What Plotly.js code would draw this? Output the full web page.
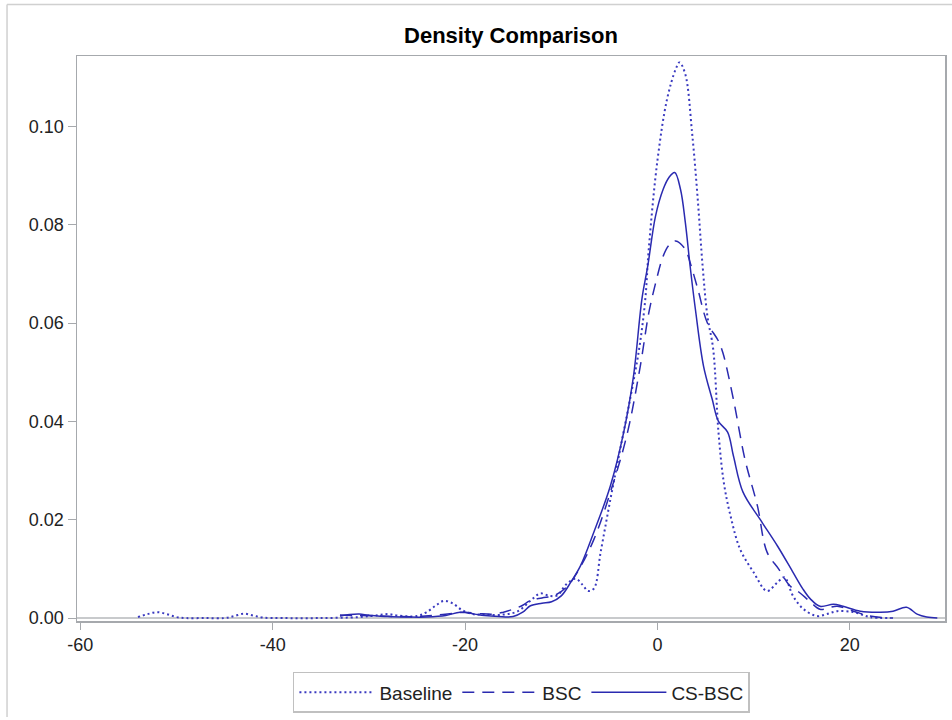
<!DOCTYPE html>
<html>
<head>
<meta charset="utf-8">
<script src="https://cdn.plot.ly/plotly-3.0.1.min.js"></script>
<style>html,body{margin:0;padding:0;background:#fff;}#chart{width:952px;height:720px;}</style>
</head>
<body>
<div id="chart"></div>
<script>
// Baseline (dotted)
const baselineX = [-54, -53, -52, -51, -50, -49, -47, -45, -44, -43, -42, -41, -39, -35, -31, -29, -28, -27, -25, -24, -23, -22.2, -21.3, -20.3, -19.2, -18, -16, -14.5, -13.2, -12.2, -11.2, -10.4, -9.5, -8.5, -7.8, -7.2, -6.6, -5.9, -4.9, -3.8, -2.5, -1.8, -1.25, -0.9, 0, 1.0, 1.9, 2.3, 2.9, 3.6, 4.2, 4.7, 5.2, 5.8, 6.35, 6.9, 7.6, 8.6, 10, 11.4, 12.5, 13.2, 14.1, 15.2, 16.6, 17.6, 18.7, 20.4, 22.1, 24.2];
const baselineY = [0.0002, 0.0008, 0.0012, 0.0008, 0.0002, 0.0000, 0.0000, 0.0000, 0.0004, 0.0009, 0.0005, 0.0001, 0.0000, 0.0000, 0.0002, 0.0006, 0.0008, 0.0005, 0.0004, 0.0012, 0.0026, 0.0035, 0.0030, 0.0016, 0.0008, 0.0007, 0.0007, 0.0014, 0.0035, 0.0050, 0.0045, 0.0046, 0.0068, 0.0080, 0.0068, 0.0055, 0.0060, 0.0134, 0.0240, 0.0350, 0.0480, 0.0560, 0.0650, 0.0750, 0.0930, 0.1055, 0.1116, 0.1130, 0.1106, 0.0988, 0.0850, 0.0716, 0.0614, 0.0547, 0.0378, 0.0276, 0.0208, 0.0140, 0.0093, 0.0055, 0.0073, 0.0083, 0.0045, 0.0018, 0.0004, 0.0008, 0.0014, 0.0012, 0.0002, 0.0000];

// BSC (dashed)
const bscX = [-33, -31, -29, -27, -25, -23, -21, -20, -18.5, -17, -16, -15, -14, -13.2, -12, -10.8, -9.5, -8.3, -6.6, -4.5, -3.1, -1.8, -0.9, -0.2, 0.6, 1.2, 1.9, 2.9, 3.4, 4.2, 5.2, 6.3, 6.8, 7.9, 9.1, 10.4, 11.4, 12.6, 13.8, 14.7, 15.9, 16.9, 18.7, 20.4, 22.1, 24.5];
const bscY = [0.0006, 0.0005, 0.0004, 0.0003, 0.0003, 0.0006, 0.0010, 0.0012, 0.0009, 0.0008, 0.0012, 0.0018, 0.0026, 0.0036, 0.0041, 0.0045, 0.0062, 0.0094, 0.0160, 0.0280, 0.0378, 0.0510, 0.0620, 0.0680, 0.0736, 0.0758, 0.0767, 0.0750, 0.0723, 0.0669, 0.0600, 0.0565, 0.0540, 0.0445, 0.0323, 0.0228, 0.0134, 0.0100, 0.0065, 0.0053, 0.0033, 0.0018, 0.0024, 0.0014, 0.0004, 0.0000];

// CS-BSC (solid)
const csbscX = [-33, -32, -31, -30, -28, -26, -24, -22, -20.5, -19, -18, -16.5, -15, -14, -13.2, -12, -11, -10, -9, -8, -6.6, -4.9, -3.5, -2.5, -1.6, -1.0, -0.2, 0.6, 1.2, 1.8, 2.4, 2.9, 3.4, 3.95, 4.8, 5.7, 6.35, 7.3, 7.9, 8.9, 10.7, 12.5, 14.1, 15.1, 15.9, 16.9, 18.3, 19.3, 21.1, 23.2, 24.5, 25.9, 27, 28, 29.1];
const csbscY = [0.0004, 0.0007, 0.0008, 0.0006, 0.0003, 0.0002, 0.0002, 0.0005, 0.0012, 0.0008, 0.0005, 0.0003, 0.0003, 0.0012, 0.0025, 0.0030, 0.0033, 0.0045, 0.0073, 0.0106, 0.0175, 0.0268, 0.0378, 0.0490, 0.0650, 0.0716, 0.0817, 0.0872, 0.0896, 0.0906, 0.0872, 0.0805, 0.0716, 0.0628, 0.0512, 0.0445, 0.0400, 0.0378, 0.0330, 0.0256, 0.0200, 0.0146, 0.0093, 0.0060, 0.0039, 0.0024, 0.0028, 0.0024, 0.0014, 0.0012, 0.0014, 0.0022, 0.0008, 0.0002, 0.0000];

const seriesNames = ['Baseline', 'BSC', 'CS-BSC'];
const xTicks = [-60, -40, -20, 0, 20];
const yTicks = [0.00, 0.02, 0.04, 0.06, 0.08, 0.10];
const yTickLabels = ['0.00', '0.02', '0.04', '0.06', '0.08', '0.10'];

const lineColor = '#2a2ab0';
const axisColor = '#a6a9ad';
const font = 'Liberation Sans, Arial, sans-serif';

const traces = [
  {x: baselineX, y: baselineY, name: seriesNames[0], mode: 'lines',
   line: {color: '#3a3ac0', width: 2, dash: '2px,3px', shape: 'spline', smoothing: 1}},
  {x: bscX, y: bscY, name: seriesNames[1], mode: 'lines',
   line: {color: lineColor, width: 1.5, dash: '12px,8px', shape: 'spline', smoothing: 1}},
  {x: csbscX, y: csbscY, name: seriesNames[2], mode: 'lines',
   line: {color: lineColor, width: 1.5, shape: 'spline', smoothing: 1}}
];

const layout = {
  width: 952, height: 720,
  margin: {l: 77, r: 7, t: 56, b: 93},
  paper_bgcolor: '#fff', plot_bgcolor: '#fff',
  font: {family: font, size: 18, color: '#222'},
  title: {text: '<b>Density Comparison</b>', font: {family: font, size: 22, color: '#000'},
          x: 0.5, xref: 'paper', xanchor: 'center', y: 1 - 35/720, yref: 'container', yanchor: 'middle'},
  xaxis: {range: [-60.34, 29.9], tickvals: xTicks, ticktext: xTicks.map(String),
          showgrid: false, zeroline: false, showline: true, mirror: true,
          linecolor: axisColor, linewidth: 1.5, ticks: 'outside', ticklen: 7, tickcolor: axisColor,
          tickfont: {family: font, size: 18, color: '#222'}},
  yaxis: {range: [-0.0006, 0.1143], tickvals: yTicks, ticktext: yTickLabels,
          showgrid: false, zeroline: true, zerolinecolor: '#c8cacc', zerolinewidth: 1.5,
          showline: true, mirror: true,
          linecolor: axisColor, linewidth: 1.5, ticks: 'outside', ticklen: 8, tickcolor: axisColor,
          tickfont: {family: font, size: 18, color: '#222'}},
  showlegend: true,
  legend: {orientation: 'h', x: 0.512, xanchor: 'center', y: -0.09, yanchor: 'top',
           bordercolor: '#c0c0c0', borderwidth: 1.5, bgcolor: '#fff',
           font: {family: font, size: 19, color: '#222'}, itemwidth: 75, tracegroupgap: 0},
  shapes: [
    {type: 'line', xref: 'paper', yref: 'paper', x0: -0.0806, x1: 1.01, y0: 1.0912, y1: 1.0912,
     line: {color: '#d0d0d0', width: 1.5}},
    {type: 'line', xref: 'paper', yref: 'paper', x0: -0.0806, x1: -0.0806, y0: 1.0912, y1: -0.17,
     line: {color: '#d0d0d0', width: 1.5}}
  ]
};

Plotly.newPlot('chart', traces, layout, {displayModeBar: false, staticPlot: true});
</script>
</body>
</html>
